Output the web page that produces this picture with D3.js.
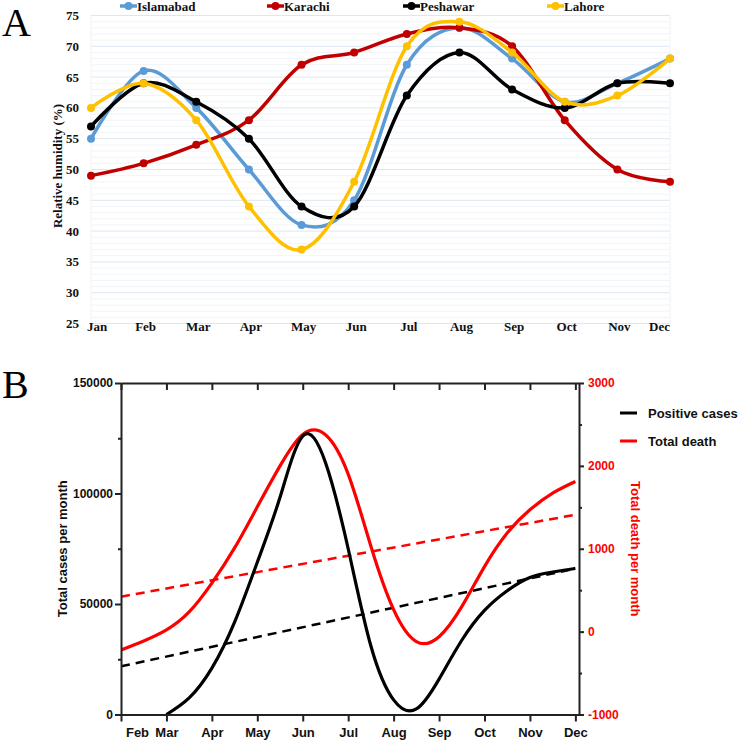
<!DOCTYPE html>
<html><head><meta charset="utf-8">
<script src="https://cdn.jsdelivr.net/npm/d3@7"></script>
<style>body{margin:0;background:#fff}svg{display:block}</style>
</head><body>
<svg id="chart" width="740" height="741"></svg>
<script>
// ---------- Panel A data ----------
const monthsA = ["Jan","Feb","Mar","Apr","May","Jun","Jul","Aug","Sep","Oct","Nov","Dec"];
const islamabad = [55,66,60,50,41,45,67,73,68,61,64,68];
const karachi   = [49,51,54,58,67,69,72,73,70,58,50,48];
const peshawar  = [57,64,61,55,44,44,62,69,63,60,64,64];
const lahore    = [60,64,58,44,37,48,70,74,69,61,62,68];
const cityNames  = ["Islamabad","Karachi","Peshawar","Lahore"];
const cityColors = ["#5B9BD5","#C00000","#000000","#FFC000"];
const humidityTicks = [25,30,35,40,45,50,55,60,65,70,75];

// ---------- Panel B data (half-month readings) ----------
const monthsB = ["Feb","Mar","Apr","May","Jun","Jul","Aug","Sep","Oct","Nov","Dec"];
const monthNumB = [2,3,4,5,6,7,8,9,10,11,12];
const casesX = [3,3.5,4,4.5,5,5.5,6,6.5,7,7.5,8,8.5,9,9.5,10,10.5,11,11.5,12];
const casesY = [0,7500,21000,41800,68900,98300,126000,114000,75000,31000,6600,2500,16000,33600,47100,56000,62000,64500,66100];
const deathsX = [2,2.5,3,3.5,4,4.5,5,5.5,6,6.5,7,7.5,8,8.5,9,9.5,10,10.5,11,11.5,12];
const deathsY = [-222,-113,20,237,585,1010,1506,2000,2380,2375,1900,1030,265,-120,-61,301,785,1190,1470,1671,1811];
const trendX = [2,12];
const casesTrend = [21800,66000];
const deathsTrend = [422,1410];
const casesTicks = [0,50000,100000,150000];
const casesMinorTicks = [25000,75000,125000];
const deathTicks = [-1000,0,1000,2000,3000];
const deathMinorTicks = [-500,500,1500,2500];
const seriesNamesB = ["Positive cases","Total death"];
const seriesColorsB = ["#000000","#FF0000"];

const svg = d3.select("#chart");
const SERIF = "'Liberation Serif','Times New Roman',serif";
const SANS = "'Liberation Sans',Arial,sans-serif";

// ================= Panel A =================
const gA = svg.append("g");
const xA = d3.scalePoint().domain(monthsA).range([91,670]);
const yA = d3.scaleLinear().domain([25,75]).range([323.5,15.5]);

gA.append("g").selectAll("line").data(d3.range(26,75).filter(v=>v%5!==0)).join("line")
  .attr("x1",91).attr("x2",670).attr("y1",d=>yA(d)).attr("y2",d=>yA(d))
  .attr("stroke","#F1F4F8").attr("stroke-width",1);
gA.append("g").selectAll("line").data(humidityTicks).join("line")
  .attr("x1",91).attr("x2",670).attr("y1",d=>yA(d)).attr("y2",d=>yA(d))
  .attr("stroke","#DCE7F3").attr("stroke-width",1);
[91,670].forEach(x=>gA.append("line").attr("x1",x).attr("x2",x).attr("y1",15.5).attr("y2",323.5)
  .attr("stroke","#EEF2F7").attr("stroke-width",1));

gA.append("g").selectAll("text").data(humidityTicks).join("text")
  .attr("x",79).attr("y",d=>yA(d)).attr("dy","0.35em").attr("text-anchor","end")
  .attr("font-family",SERIF).attr("font-weight","bold").attr("font-size",13).attr("fill","#111")
  .text(d=>d);
gA.append("g").selectAll("text").data(monthsA).join("text")
  .attr("x",(d,i)=> i===0 ? xA(d)-4 : i===11 ? xA(d) : xA(d)+2)
  .attr("y",331)
  .attr("text-anchor",(d,i)=> i===0 ? "start" : i===11 ? "end" : "middle")
  .attr("font-family",SERIF).attr("font-weight","bold").attr("font-size",13).attr("fill","#111")
  .text(d=>d);
gA.append("text").attr("transform","translate(62,166) rotate(-90)").attr("text-anchor","middle")
  .attr("font-family",SERIF).attr("font-weight","bold").attr("font-size",13).attr("fill","#111")
  .text("Relative humidity (%)");

const citySeries = [islamabad,karachi,peshawar,lahore];
const lineA = d3.line().x((d,i)=>xA(monthsA[i])).y(d=>yA(d)).curve(d3.curveCardinal.tension(0));
citySeries.forEach((s,k)=>{
  gA.append("path").datum(s).attr("d",lineA).attr("fill","none")
    .attr("stroke",cityColors[k]).attr("stroke-width",3.5);
  gA.append("g").selectAll("circle").data(s).join("circle")
    .attr("cx",(d,i)=>xA(monthsA[i])).attr("cy",d=>yA(d)).attr("r",4)
    .attr("fill",cityColors[k]);
});

const legAx = [120,267,403,547];
cityNames.forEach((n,k)=>{
  const x0 = legAx[k];
  gA.append("line").attr("x1",x0).attr("x2",x0+17).attr("y1",6).attr("y2",6)
    .attr("stroke",cityColors[k]).attr("stroke-width",3.5);
  gA.append("circle").attr("cx",x0+8.5).attr("cy",6).attr("r",4).attr("fill",cityColors[k]);
  gA.append("text").attr("x",x0+17).attr("y",10.5)
    .attr("font-family",SERIF).attr("font-weight","bold").attr("font-size",13).attr("fill","#111")
    .text(n);
});
svg.append("text").attr("x",2).attr("y",36).attr("font-family",SERIF).attr("font-size",40).attr("fill","#000").text("A");

// ================= Panel B =================
const gB = svg.append("g");
const L=121, R=579, T=383, B=714.5;
const xB = d3.scaleLinear().domain([2,12.08]).range([L,R]);
const yL = d3.scaleLinear().domain([0,150000]).range([B,T]);
const yR = d3.scaleLinear().domain([-1000,3000]).range([B,T]);

svg.append("defs").append("clipPath").attr("id","clipB").append("rect")
  .attr("x",L).attr("y",T).attr("width",R-L).attr("height",B-T);

const plot = gB.append("g").attr("clip-path","url(#clipB)");
const lineCases = d3.line().x((d,i)=>xB(casesX[i])).y(d=>yL(d)).curve(d3.curveNatural);
const lineDeaths = d3.line().x((d,i)=>xB(deathsX[i])).y(d=>yR(d)).curve(d3.curveNatural);
const trendCases = d3.line().x((d,i)=>xB(trendX[i])).y(d=>yL(d));
const trendDeaths = d3.line().x((d,i)=>xB(trendX[i])).y(d=>yR(d));

plot.append("path").datum(deathsTrend).attr("d",trendDeaths).attr("fill","none")
  .attr("stroke","#FF0000").attr("stroke-width",2.5).attr("stroke-dasharray","9,6");
plot.append("path").datum(casesTrend).attr("d",trendCases).attr("fill","none")
  .attr("stroke","#000").attr("stroke-width",2.5).attr("stroke-dasharray","9,6");
plot.append("path").datum(deathsY).attr("d",lineDeaths).attr("fill","none")
  .attr("stroke","#FF0000").attr("stroke-width",3.2);
plot.append("path").datum(casesY).attr("d",lineCases).attr("fill","none")
  .attr("stroke","#000").attr("stroke-width",3.2);

function styleAxis(g,color){
  g.selectAll("path.domain").attr("stroke","#222").attr("stroke-width",2);
  g.selectAll(".tick line").attr("stroke","#222").attr("stroke-width",2);
  g.selectAll("text").attr("font-family",SANS).attr("font-weight","bold").attr("fill",color);
}
const axL = gB.append("g").attr("transform",`translate(${L},0)`)
  .call(d3.axisLeft(yL).tickValues(casesTicks).tickSize(6).tickSizeOuter(0).tickPadding(2).tickFormat(d=>d));
styleAxis(axL,"#111"); axL.selectAll("text").attr("font-size",12);
const axLm = gB.append("g").attr("transform",`translate(${L},0)`)
  .call(d3.axisLeft(yL).tickValues(casesMinorTicks).tickSize(3).tickSizeOuter(0).tickFormat(""));
styleAxis(axLm,"#111"); axLm.select("path.domain").remove();
const axR = gB.append("g").attr("transform",`translate(${R},0)`)
  .call(d3.axisRight(yR).tickValues(deathTicks).tickSize(5).tickSizeOuter(0).tickPadding(4).tickFormat(d=>d));
styleAxis(axR,"#FF0000"); axR.selectAll("text").attr("font-size",12);
const axRm = gB.append("g").attr("transform",`translate(${R},0)`)
  .call(d3.axisRight(yR).tickValues(deathMinorTicks).tickSize(3).tickSizeOuter(0).tickFormat(""));
styleAxis(axRm,"#111"); axRm.select("path.domain").remove();
const axB = gB.append("g").attr("transform",`translate(0,${B})`)
  .call(d3.axisBottom(xB).tickValues(monthNumB).tickSize(7).tickSizeOuter(0).tickPadding(6).tickFormat((d,i)=>monthsB[i]));
styleAxis(axB,"#111"); axB.selectAll("text").attr("font-size",13);
axB.selectAll(".tick").filter(d=>d===2).select("text").attr("x",16);
const axT = gB.append("g").attr("transform",`translate(0,${T})`)
  .call(d3.axisBottom(xB).tickValues(monthNumB).tickSize(7).tickSizeOuter(0).tickFormat(""));
styleAxis(axT,"#111");

gB.append("text").attr("transform",`translate(67,${(T+B)/2}) rotate(-90)`).attr("text-anchor","middle")
  .attr("font-family",SANS).attr("font-weight","bold").attr("font-size",13).attr("fill","#111")
  .text("Total cases per month");
gB.append("text").attr("transform",`translate(631,${(T+B)/2}) rotate(90)`).attr("text-anchor","middle")
  .attr("font-family",SANS).attr("font-weight","bold").attr("font-size",13).attr("fill","#FF0000")
  .text("Total death per month");

seriesNamesB.forEach((n,k)=>{
  const yy = 413 + k*28;
  gB.append("line").attr("x1",620).attr("x2",637).attr("y1",yy).attr("y2",yy)
    .attr("stroke",seriesColorsB[k]).attr("stroke-width",3);
  gB.append("text").attr("x",648).attr("y",yy).attr("dy","0.36em")
    .attr("font-family",SANS).attr("font-weight","bold").attr("font-size",13).attr("fill","#111").text(n);
});
svg.append("text").attr("x",2).attr("y",398).attr("font-family",SERIF).attr("font-size",40).attr("fill","#000").text("B");
</script>
</body></html>
